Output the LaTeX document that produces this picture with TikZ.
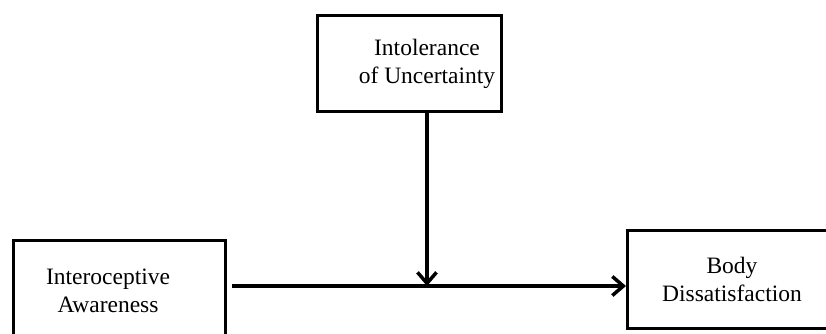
\documentclass[tikz,border=0pt]{standalone}
\usepackage{fontspec}
\setmainfont{Liberation Serif}
\usetikzlibrary{arrows.meta}
\begin{document}
\begin{tikzpicture}[x=1pt,y=-1pt,
  varbox/.style={draw=black,line width=3pt,fill=none,inner sep=0pt,anchor=north west},
  vartext/.style={align=center,inner sep=0pt,font=\fontsize{23.5}{28}\selectfont},
  conn/.style={line width=3.5pt,-{Straight Barb[length=11pt,width=19pt,line width=3.5pt]}}]
\useasboundingbox (0,0) rectangle (826,333);
\clip (0,0) rectangle (826,333);
\node[varbox,minimum width=184pt,minimum height=96pt] (iu) at (316,14) {};
\node[varbox,minimum width=212pt,minimum height=110pt] (ia) at (12,239) {};
\node[varbox,minimum width=215pt,minimum height=98pt] (bd) at (626,229) {};
\node[vartext] (iut) at (427,63.5) {Intolerance\\of Uncertainty};
\node[vartext] (iat) at (108,291) {Interoceptive\\Awareness};
\node[vartext] (bdt) at (732,279) {Body\\Dissatisfaction};
\coordinate (m) at (427,286);
\draw[conn,shorten <=5pt] (ia.east |- m) -- (bd.west |- m);
\draw[conn] (iu.south -| m) -- (m);
\end{tikzpicture}
\end{document}
